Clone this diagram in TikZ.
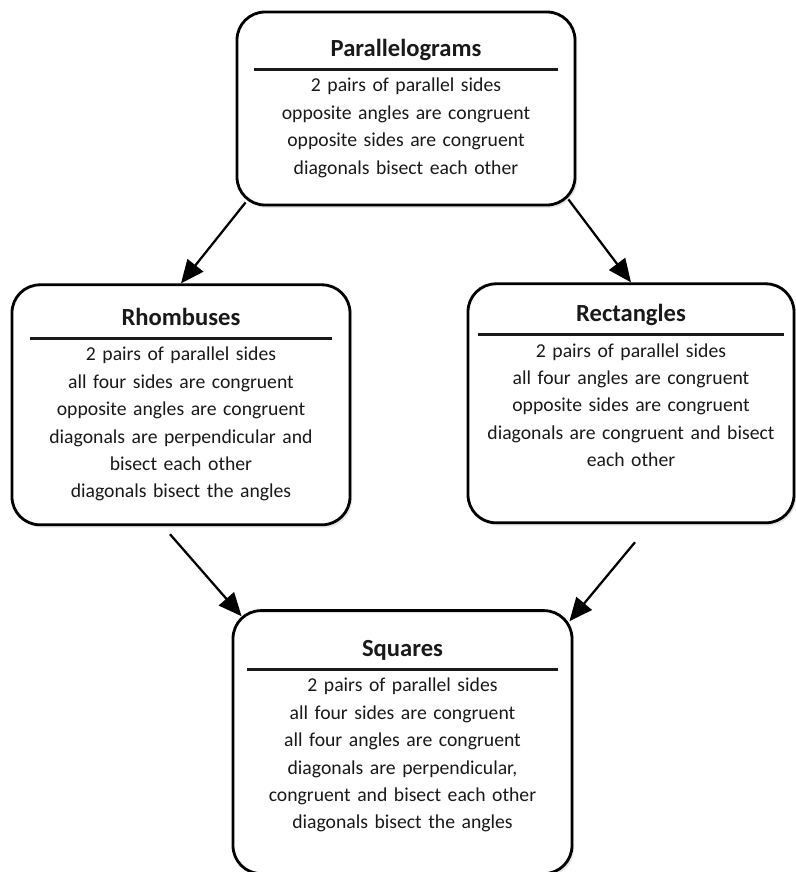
\documentclass[tikz,border=0pt]{standalone}
\usepackage{fontspec}
\setmainfont{Carlito}
\usepackage{tikz}
\usetikzlibrary{arrows.meta, positioning, shadows}
\newcommand{\quadtitle}[1]{{\fontsize{17.5}{21}\selectfont\bfseries #1}}
\newcommand{\quadrule}[1]{\rule{#1}{1.8pt}}
\tikzset{
  quadbox/.style = {
    rectangle, rounded corners=0.7cm, draw=black, line width=2pt,
    fill=white, drop shadow={shadow xshift=1.5pt, shadow yshift=-2pt, opacity=0.2},
    align=center, inner sep=2pt, text=black!90,
    font=\fontsize{14}{19.5}\selectfont
  },
  myarrow/.style = {-{Triangle[length=0.58cm, width=0.5cm]}, line width=1.6pt}
}

\begin{document}
\begin{tikzpicture}
  \useasboundingbox (-10.15,2.7125) rectangle (9.75,-19.0875);
  % Nodes
  \node[quadbox, minimum width=8.45cm, minimum height=4.825cm, text width=7.6cm] (para)
    {\quadtitle{Parallelograms}\\[-9.5pt]\quadrule{7.6cm}\\[-4.4pt]
     2 pairs of parallel sides\\opposite angles are congruent\\
     opposite sides are congruent\\diagonals bisect each other};
  \node[quadbox, below=1.925cm of para, xshift=-5.625cm, minimum width=8.45cm, minimum height=6cm,
        text width=7.55cm] (rhomb)
    {\quadtitle{Rhombuses}\\[-9.5pt]\quadrule{7.55cm}\\[-4.4pt]
     2 pairs of parallel sides\\all four sides are congruent\\
     opposite angles are congruent\\diagonals are perpendicular and\\
     bisect each other\\diagonals bisect the angles};
  \node[quadbox, below=1.9cm of para, xshift=5.625cm, minimum width=8.15cm, minimum height=5.975cm,
        text width=7.65cm] (rect)
    {\quadtitle{Rectangles}\\[-9.5pt]\quadrule{7.65cm}\\[-4.4pt]
     2 pairs of parallel sides\\all four angles are congruent\\
     opposite sides are congruent\\diagonals are congruent and bisect\\
     each other\\[5.75pt]\mbox{}};
  \node[quadbox, below=2.075cm of rhomb, xshift=5.5375cm, minimum width=8.475cm, minimum height=6.575cm,
        text width=7.75cm] (square)
    {\quadtitle{Squares}\\[-9.5pt]\quadrule{7.75cm}\\[-4.4pt]
     2 pairs of parallel sides\\all four sides are congruent\\
     all four angles are congruent\\diagonals are perpendicular,\\
     congruent and bisect each other\\diagonals bisect the angles\\[-9pt]\mbox{}};

  % Connections
  \draw[myarrow] ([shift={(.25,.1)}]para.south west) -- (rhomb.north);
  \draw[myarrow] ([shift={(-.2,.175)}]para.south east) -- (rect.north);
  \draw[myarrow] ([shift={(-.275,-.2)}]rhomb.south) -- ([shift={(.25,-.175)}]square.north west);
  \draw[myarrow] ([shift={(.1,-.45)}]rect.south) -- ([shift={(-.1,-.3)}]square.north east);
\end{tikzpicture}
\end{document}
